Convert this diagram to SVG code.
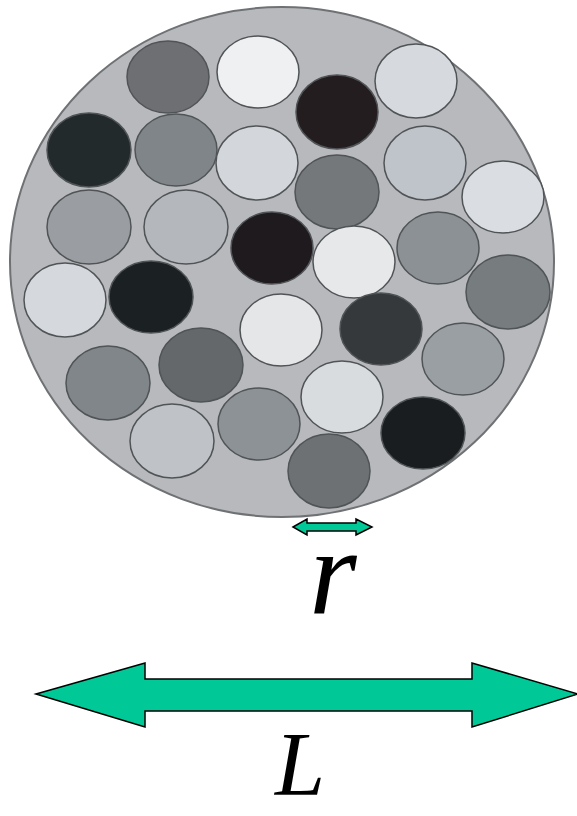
<svg xmlns="http://www.w3.org/2000/svg" width="577" height="816" viewBox="0 0 577 816">
<style>
.p{stroke:#505456;stroke-width:1.5}
.arr{fill:#00c896;stroke:#000;stroke-width:1.5;stroke-linejoin:miter}
.lbl{font-family:"Liberation Serif","Times New Roman",serif;font-style:italic;fill:#000;text-anchor:middle}
</style>
<rect width="577" height="816" fill="#fff"/>
<g id="container">
<ellipse cx="282" cy="262" rx="272" ry="255" fill="#b8b9bc" stroke="#6f7274" stroke-width="2"/>
</g>
<g id="particles">
<ellipse id="p1" class="p" cx="168" cy="77" rx="41" ry="36" fill="#6e6f72"/>
<ellipse id="p2" class="p" cx="258" cy="72" rx="41" ry="36" fill="#eef0f2"/>
<ellipse id="p3" class="p" cx="416" cy="81" rx="41" ry="37" fill="#d6d9de"/>
<ellipse id="p4" class="p" cx="337" cy="112" rx="41" ry="37" fill="#231d1f"/>
<ellipse id="p5" class="p" cx="89" cy="150" rx="42" ry="37" fill="#222a2b"/>
<ellipse id="p6" class="p" cx="176" cy="150" rx="41" ry="36" fill="#7f8588"/>
<ellipse id="p7" class="p" cx="257" cy="163" rx="41" ry="37" fill="#d3d6da"/>
<ellipse id="p8" class="p" cx="425" cy="163" rx="41" ry="37" fill="#bfc4cb"/>
<ellipse id="p9" class="p" cx="337" cy="192" rx="42" ry="37" fill="#74787b"/>
<ellipse id="p10" class="p" cx="503" cy="197" rx="41" ry="36" fill="#dadde1"/>
<ellipse id="p11" class="p" cx="89" cy="227" rx="42" ry="37" fill="#9a9ea2"/>
<ellipse id="p12" class="p" cx="186" cy="227" rx="42" ry="37" fill="#b4b8bd"/>
<ellipse id="p13" class="p" cx="272" cy="248" rx="41" ry="36" fill="#1f1a1e"/>
<ellipse id="p14" class="p" cx="354" cy="262" rx="41" ry="36" fill="#e6e8ea"/>
<ellipse id="p15" class="p" cx="438" cy="248" rx="41" ry="36" fill="#8c9195"/>
<ellipse id="p16" class="p" cx="508" cy="292" rx="42" ry="37" fill="#777c7f"/>
<ellipse id="p17" class="p" cx="65" cy="300" rx="41" ry="37" fill="#d5d8dc"/>
<ellipse id="p18" class="p" cx="151" cy="297" rx="42" ry="36" fill="#1b2023"/>
<ellipse id="p19" class="p" cx="281" cy="330" rx="41" ry="36" fill="#e4e6e8"/>
<ellipse id="p20" class="p" cx="381" cy="329" rx="41" ry="36" fill="#36393b"/>
<ellipse id="p21" class="p" cx="463" cy="359" rx="41" ry="36" fill="#9a9fa4"/>
<ellipse id="p22" class="p" cx="201" cy="365" rx="42" ry="37" fill="#64686b"/>
<ellipse id="p23" class="p" cx="108" cy="383" rx="42" ry="37" fill="#80868a"/>
<ellipse id="p24" class="p" cx="342" cy="397" rx="41" ry="36" fill="#d9dcdf"/>
<ellipse id="p25" class="p" cx="259" cy="424" rx="41" ry="36" fill="#8d9296"/>
<ellipse id="p26" class="p" cx="423" cy="433" rx="42" ry="36" fill="#1a1d1f"/>
<ellipse id="p27" class="p" cx="172" cy="441" rx="42" ry="37" fill="#bfc3c8"/>
<ellipse id="p28" class="p" cx="329" cy="471" rx="41" ry="37" fill="#6d7174"/>
</g>
<g id="connectors">
<polygon id="r-arrow" class="arr" points="293,527 307,519 307,523 356,523 356,519 372,527 356,535 356,531 307,531 307,535"/>
<polygon id="L-arrow" class="arr" points="36,694 145,663 145,679 472,679 472,663 578,694 472,727 472,711 145,711 145,727"/>
</g>
<g id="labels">
<text class="lbl" x="333" y="613" font-size="122">r</text>
<text class="lbl" x="300" y="795" font-size="90">L</text>
</g>
</svg>
